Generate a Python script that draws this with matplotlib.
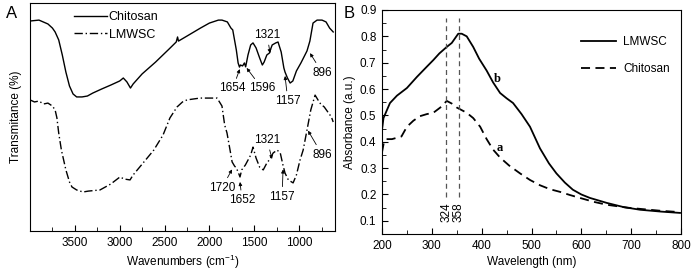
import matplotlib
matplotlib.use('Agg')
import matplotlib.pyplot as plt
from matplotlib.ticker import MultipleLocator

plt.rcParams['font.family'] = ['Liberation Sans', 'DejaVu Sans']
plt.rcParams['font.size'] = 8.5

# ---- panel A: FTIR (transmittance, arbitrary %) ----
chi_wn = [4000, 3900, 3800, 3750, 3720, 3680, 3640, 3600, 3560, 3520, 3480, 3420, 3360, 3300,
          3200, 3100, 3000, 2960, 2920, 2880, 2850, 2750, 2600, 2450, 2370, 2355, 2345, 2250,
          2100, 2000, 1900, 1860, 1800, 1760, 1740, 1700, 1680, 1665, 1654, 1630, 1610, 1596,
          1570, 1540, 1514, 1480, 1440, 1410, 1390, 1360, 1330, 1321, 1300, 1260, 1235, 1200,
          1170, 1157, 1130, 1100, 1070, 1030, 980, 940, 912, 880, 845, 800, 745, 700, 660, 620]
chi_t = [92.1, 92.5, 90.8, 89.0, 87.3, 83.8, 77.2, 69.7, 63.6, 60.1, 58.8, 58.8, 59.2, 60.5,
         62.3, 64.0, 65.8, 67.1, 65.4, 62.7, 64.5, 68.9, 74.1, 79.8, 82.9, 85.1, 83.3, 85.5,
         89.0, 91.2, 92.5, 92.5, 91.7, 89.0, 88.2, 79.4, 73.7, 71.9, 72.8, 72.4, 73.7, 72.0,
         77.2, 81.6, 82.5, 80.3, 75.9, 72.8, 74.1, 77.2, 78.1, 79.4, 81.6, 82.5, 82.9, 78.5,
         71.5, 69.7, 67.1, 64.9, 65.8, 70.2, 73.7, 76.8, 79.0, 83.3, 91.2, 92.5, 92.5, 91.7,
         89.0, 87.3]

lmw_wn = [4000, 3950, 3900, 3850, 3800, 3750, 3720, 3700, 3680, 3650, 3600, 3560, 3532, 3480,
          3409, 3350, 3220, 3100, 2997, 2950, 2885, 2850, 2740, 2620, 2517, 2440, 2361, 2300,
          2250, 2105, 2000, 1915, 1880, 1860, 1830, 1804, 1770, 1747, 1720, 1700, 1680, 1659,
          1640, 1600, 1570, 1540, 1514, 1480, 1440, 1400, 1360, 1324, 1290, 1245, 1210, 1180,
          1157, 1120, 1067, 1030, 990, 955, 912, 870, 822, 790, 760, 720, 680, 640, 620]
lmw_t = [57.5, 56.6, 57.0, 55.7, 56.1, 54.8, 53.1, 49.6, 43.0, 35.5, 26.8, 21.5, 19.3, 18.0,
         17.1, 17.5, 18.0, 20.6, 23.7, 22.8, 22.4, 24.6, 29.8, 35.5, 42.1, 49.6, 54.4, 56.6,
         57.5, 58.3, 58.3, 58.3, 56.1, 54.8, 46.5, 43.0, 35.5, 30.3, 28.5, 27.6, 25.9, 23.7,
         26.8, 28.9, 31.1, 33.3, 36.8, 32.0, 28.0, 26.8, 29.8, 31.6, 34.2, 35.5, 34.2, 28.9,
         25.4, 22.4, 21.1, 24.6, 31.1, 35.5, 44.3, 53.1, 59.6, 57.5, 55.7, 54.4, 52.2, 50.0,
         47.8]

# label, tip (wn, T), text centre (wn, T)
chi_marks = [('1654', (1662, 71.0), (1740, 62.5)),
             ('1596', (1585, 71.5), (1413, 62.5)),
             ('1321', (1324, 78.0), (1357, 86.0)),
             ('1157', (1157, 68.0), (1125, 57.0)),
             ('896', (878, 78.0), (744, 69.5))]
lmw_marks = [('1720', (1748, 27.0), (1859, 19.0)),
             ('1652', (1659, 21.5), (1636, 13.5)),
             ('1321', (1302, 31.6), (1357, 40.0)),
             ('1157', (1179, 27.0), (1190, 15.0)),
             ('896', (900, 44.0), (744, 33.5))]

# ---- panel B: UV-vis ----
b_lmw_wl = [200, 203, 216, 230, 250, 270, 290, 303, 315, 330, 340, 353, 360, 370, 383, 395,
            410, 423, 437, 450, 463, 480, 497, 517, 535, 550, 567, 583, 600, 617, 651, 685,
            718, 760, 798]
b_lmw_ab = [0.445, 0.49, 0.547, 0.575, 0.604, 0.646, 0.685, 0.71, 0.735, 0.76, 0.775, 0.81, 0.81,
            0.80, 0.76, 0.715, 0.67, 0.625, 0.585, 0.565, 0.547, 0.505, 0.457, 0.375, 0.318, 0.28,
            0.245, 0.218, 0.20, 0.187, 0.168, 0.152, 0.142, 0.135, 0.13]

b_chi_wl = [200, 204, 209, 220, 239, 250, 263, 276, 290, 303, 317, 330, 340, 350, 360, 370,
            383, 397, 410, 423, 437, 455, 477, 497, 517, 537, 557, 577, 597, 625, 651, 692,
            720, 760, 798]
b_chi_ab = [0.36, 0.40, 0.41, 0.41, 0.42, 0.457, 0.48, 0.497, 0.505, 0.51, 0.53, 0.555, 0.545,
            0.53, 0.52, 0.51, 0.49, 0.457, 0.41, 0.37, 0.34, 0.31, 0.28, 0.255, 0.235, 0.22,
            0.21, 0.198, 0.187, 0.172, 0.161, 0.15, 0.145, 0.138, 0.133]

peak_wl = [329, 354]
peak_labels = ['324', '358']

fig = plt.figure(figsize=(6.94, 2.73), dpi=100)

axA = fig.add_axes([30 / 694, 42 / 273, 305 / 694, 228 / 273])
axA.plot(chi_wn, chi_t, color='black', lw=1.0, label='Chitosan')
axA.plot(lmw_wn, lmw_t, color='black', lw=1.0, linestyle=(0, (6, 2, 1, 2)), label='LMWSC')
axA.set_xlim(4000, 600)
axA.set_ylim(0, 100)
axA.set_yticks([])
axA.xaxis.set_major_locator(MultipleLocator(500))
axA.xaxis.set_minor_locator(MultipleLocator(250))
axA.set_xticks([3500, 3000, 2500, 2000, 1500, 1000])
axA.tick_params(axis='x', which='both', direction='in', top=False, pad=4)
axA.tick_params(axis='x', which='major', length=4)
axA.tick_params(axis='x', which='minor', length=3)
axA.set_xlabel('Wavenumbers (cm$^{\\mathregular{-1}}$)', labelpad=3)
axA.set_ylabel('Transmitance (%)', labelpad=6)
for lab, tip, txt in chi_marks + lmw_marks:
    axA.annotate(lab, xy=tip, xytext=txt, ha='center', va='center', fontsize=8.5,
                 arrowprops=dict(arrowstyle='-|>', color='black', lw=0.6,
                                 mutation_scale=5, shrinkA=1, shrinkB=0))
axA.legend(loc='upper left', bbox_to_anchor=(0.145, 0.965), frameon=False,
           handlelength=2.6, handletextpad=0.15, borderpad=0, borderaxespad=0,
           labelspacing=0.45, fontsize=9)

axB = fig.add_axes([382 / 694, 39 / 273, 299 / 694, 224 / 273])
axB.plot(b_lmw_wl, b_lmw_ab, color='black', lw=1.3, label='LMWSC')
axB.plot(b_chi_wl, b_chi_ab, color='black', lw=1.3, linestyle=(0, (5, 3)), label='Chitosan')
for wl, lab in zip(peak_wl, peak_labels):
    axB.plot([wl, wl], [0.19, 0.87], color='#555555', lw=0.9, linestyle=(0, (4, 3)))
    axB.text(wl, 0.134, lab, rotation=90, ha='center', va='center', fontsize=8.5)
axB.text(431, 0.64, 'b', family='Liberation Serif', fontweight='bold', fontsize=9,
         ha='center', va='center')
axB.text(437, 0.377, 'a', family='Liberation Serif', fontweight='bold', fontsize=9,
         ha='center', va='center')
axB.set_xlim(200, 800)
axB.set_ylim(0.05, 0.9)
axB.xaxis.set_major_locator(MultipleLocator(100))
axB.xaxis.set_minor_locator(MultipleLocator(50))
axB.yaxis.set_major_locator(MultipleLocator(0.1))
axB.yaxis.set_minor_locator(MultipleLocator(0.05))
axB.set_yticks([0.1, 0.2, 0.3, 0.4, 0.5, 0.6, 0.7, 0.8, 0.9])
axB.tick_params(which='both', direction='in', top=False, right=False, pad=4)
axB.tick_params(which='major', length=4)
axB.tick_params(which='minor', length=3)
axB.set_xlabel('Wavelength (nm)', labelpad=3)
axB.set_ylabel('Absorbance (a.u.)', labelpad=3)
axB.legend(loc='upper left', bbox_to_anchor=(0.665, 0.885), frameon=False,
           handlelength=3.0, handletextpad=0.6, borderpad=0, borderaxespad=0,
           labelspacing=1.3, fontsize=8.5)

fig.text(12 / 694, 1 - 14 / 273, 'A', fontsize=12, ha='center', va='center')
fig.text(349 / 694, 1 - 14 / 273, 'B', fontsize=12, ha='center', va='center')

fig.savefig('out.png', dpi=100)
